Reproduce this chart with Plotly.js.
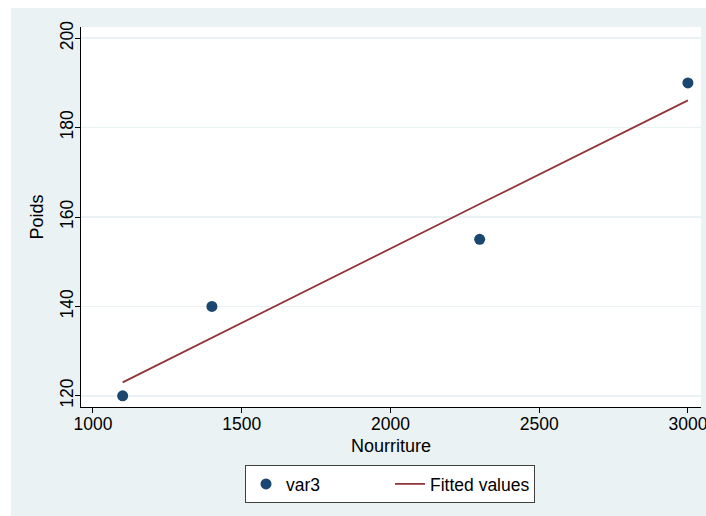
<!DOCTYPE html>
<html>
<head>
<meta charset="utf-8">
<script src="https://cdn.plot.ly/plotly-3.0.1.min.js"></script>
<style>html,body{margin:0;padding:0;background:#fff}</style>
</head>
<body>
<div id="chart" style="width:706px;height:516px"></div>
<script>
const nourriture = [1100, 1400, 2300, 3000];
const poids = [120, 140, 155, 190];
const fittedValues = [123.0, 133.0, 162.9, 186.1];
const xTicks = [1000, 1500, 2000, 2500, 3000];
const yTicks = [120, 140, 160, 180, 200];

const W = 706, H = 516, L = 81, R = 5, T = 27, B = 109;
const pw = W - L - R, ph = H - T - B;
const px = v => (v - L) / pw;
const py = v => (H - B - v) / ph;

const traces = [
  {x: nourriture, y: poids, type: 'scatter', mode: 'markers', name: 'var3',
   marker: {color: '#1a476f', size: 11}},
  {x: nourriture, y: fittedValues, type: 'scatter', mode: 'lines', name: 'Fitted values',
   line: {color: '#90353b', width: 1.8}}
];

const tickFont = {family: 'Liberation Sans, Arial, sans-serif', size: 17.5, color: '#000'};
const font = {family: 'Liberation Sans, Arial, sans-serif', size: 18, color: '#000'};
const legendFont = {family: 'Liberation Sans, Arial, sans-serif', size: 17.5, color: '#000'};

const layout = {
  width: W, height: H,
  margin: {l: L, r: R, t: T, b: B, pad: 0},
  paper_bgcolor: '#eaf2f3',
  plot_bgcolor: '#ffffff',
  font: font,
  showlegend: true,
  xaxis: {
    range: [960, 3044], tickvals: xTicks, ticktext: xTicks.map(String),
    showgrid: false, zeroline: false, showline: true, linecolor: '#000', linewidth: 1,
    ticks: 'outside', ticklen: 5, tickcolor: '#000', ticklabelstandoff: -4,
    ticklabeloverflow: 'allow',
    tickfont: tickFont,
    title: {text: 'Nourriture', font: font, standoff: 6}
  },
  yaxis: {
    range: [117.5, 202.5], tickvals: yTicks, ticktext: yTicks.map(String),
    tickangle: -90,
    showgrid: true, gridcolor: '#eaf2f3', gridwidth: 1.5, zeroline: false,
    showline: true, linecolor: '#000', linewidth: 1,
    ticks: 'outside', ticklen: 5, tickcolor: '#000', ticklabelstandoff: -5,
    tickfont: tickFont,
    title: {text: 'Poids', font: font, standoff: 8}
  },
  legend: {
    orientation: 'h', x: px(390), xanchor: 'center', y: py(465), yanchor: 'top',
    bgcolor: '#ffffff', bordercolor: '#404040', borderwidth: 1,
    font: legendFont, itemwidth: 30, entrywidth: 99, entrywidthmode: 'pixels'
  },
  shapes: [
    {type: 'rect', xref: 'paper', yref: 'paper', x0: px(0), x1: px(W), y0: py(0), y1: py(8),
     fillcolor: '#ffffff', line: {width: 0}, layer: 'above'},
    {type: 'rect', xref: 'paper', yref: 'paper', x0: px(0), x1: px(11), y0: py(0), y1: py(H),
     fillcolor: '#ffffff', line: {width: 0}, layer: 'above'}
  ]
};

Plotly.newPlot('chart', traces, layout, {displayModeBar: false, staticPlot: true});
</script>
</body>
</html>
